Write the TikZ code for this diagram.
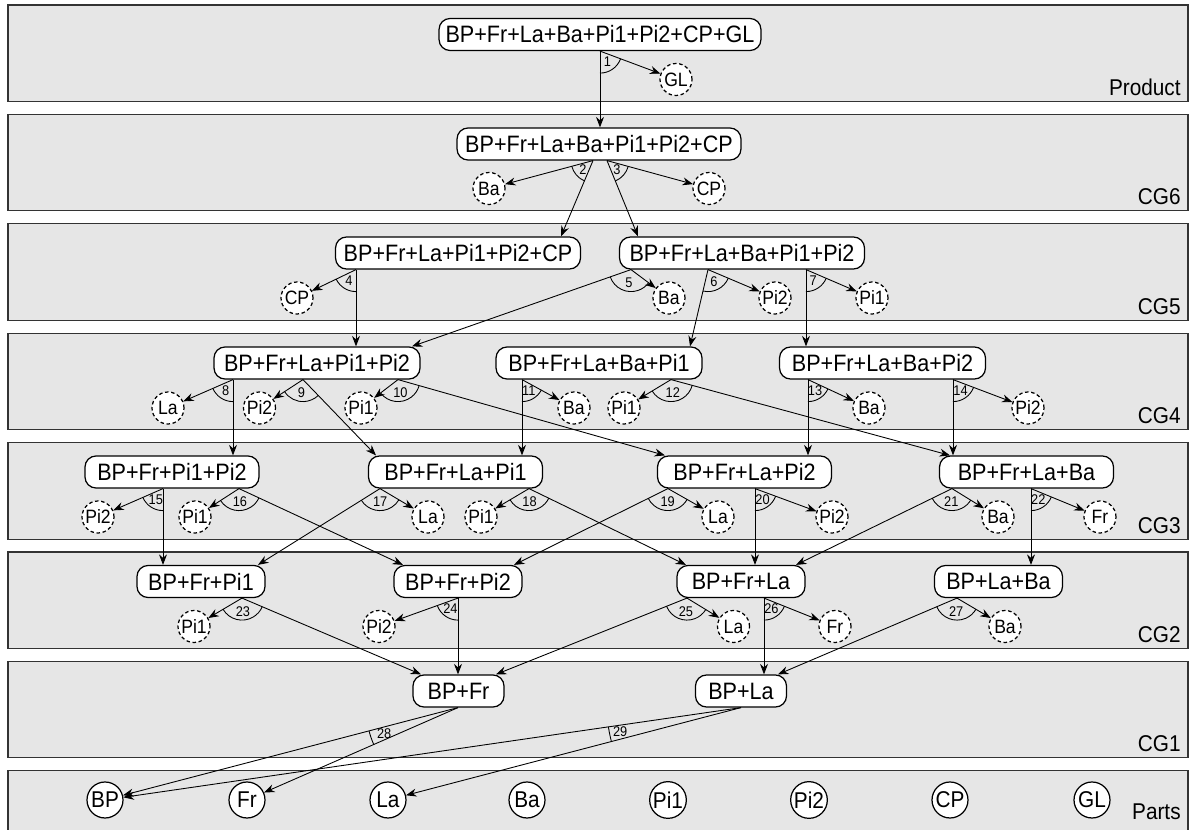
\documentclass[tikz,border=0pt]{standalone}
\usepackage{fontspec}
\setmainfont{Liberation Sans}[FakeStretch=0.91]
\usetikzlibrary{arrows.meta,angles}
\definecolor{bandfill}{HTML}{E6E6E6}
\definecolor{bandline}{HTML}{333333}

\begin{document}
\begin{tikzpicture}[x=0.02cm, y=-0.02cm,
      bandbox/.style={draw=bandline, fill=bandfill, line width=0.6pt},
      bandlabel/.style={anchor=base east, inner sep=0pt, font=\fontsize{13}{15}\selectfont},
      cgnode/.style={draw, fill=white, line width=0.7pt, rounded corners=0.22cm, minimum width=#1, minimum height=0.64cm, inner xsep=3pt, font=\fontsize{13.5}{16}\selectfont},
      subpart/.style={circle, draw, fill=white, line width=0.7pt, dash pattern=on 2pt off 1.5pt, minimum size=0.64cm, inner sep=0.5pt, font=\fontsize{11}{12}\selectfont},
      partnode/.style={circle, draw, fill=white, line width=0.7pt, minimum size=0.72cm, inner sep=0.5pt, font=\fontsize{13}{15}\selectfont},
      conn/.style={line width=0.5pt, -{Stealth[length=2.1mm, width=1.6mm, inset=0.7mm]}},
      splitangle/.style={draw, line width=0.5pt, angle radius=0.44cm, angle eccentricity=0.6, pic text options={font=\fontsize{8}{9}\selectfont, inner sep=0pt}}]

      \useasboundingbox (0,0) rectangle (1191,830);

      % Bands
      \draw[bandbox] (8,5) rectangle (1188,101.5);
      \draw[bandbox] (8,114.4) rectangle (1188,210.9);
      \draw[bandbox] (8,223.8) rectangle (1188,320.3);
      \draw[bandbox] (8,333.2) rectangle (1188,429.7);
      \draw[bandbox] (8,442.6) rectangle (1188,539.1);
      \draw[bandbox] (8,552) rectangle (1188,648.5);
      \draw[bandbox] (8,661.4) rectangle (1188,757.9);
      \draw[bandbox] (8,770.8) rectangle (1188,870);

      \node[bandlabel] (lprod) at (1181,95.5) {Product};
      \node[bandlabel] (lcg6) at (1181,205) {CG6};
      \node[bandlabel] (lcg5) at (1181,314.3) {CG5};
      \node[bandlabel] (lcg4) at (1181,423.7) {CG4};
      \node[bandlabel] (lcg3) at (1181,533.1) {CG3};
      \node[bandlabel] (lcg2) at (1181,642.5) {CG2};
      \node[bandlabel] (lcg1) at (1181,751.9) {CG1};
      \node[bandlabel] (lparts) at (1181,820) {Parts};

      % Assemblies
      \node[cgnode=6.44cm] (prod) at (600,34.5) {BP+Fr+La+Ba+Pi1+Pi2+CP+GL};
      \node[cgnode=5.68cm] (g6) at (599,144) {BP+Fr+La+Ba+Pi1+Pi2+CP};
      \node[cgnode=4.9cm] (g5a) at (458,253) {BP+Fr+La+Pi1+Pi2+CP};
      \node[cgnode=4.9cm] (g5b) at (742,253) {BP+Fr+La+Ba+Pi1+Pi2};
      \node[cgnode=4.12cm] (g4a) at (317,363) {BP+Fr+La+Pi1+Pi2};
      \node[cgnode=4.12cm] (g4b) at (599,363) {BP+Fr+La+Ba+Pi1};
      \node[cgnode=4.12cm] (g4c) at (882.5,363) {BP+Fr+La+Ba+Pi2};
      \node[cgnode=3.48cm] (g3a) at (172,472) {BP+Fr+Pi1+Pi2};
      \node[cgnode=3.48cm] (g3b) at (455.5,472) {BP+Fr+La+Pi1};
      \node[cgnode=3.48cm] (g3c) at (744.5,472) {BP+Fr+La+Pi2};
      \node[cgnode=3.48cm] (g3d) at (1026.5,472) {BP+Fr+La+Ba};
      \node[cgnode=2.56cm] (g2a) at (201,581.5) {BP+Fr+Pi1};
      \node[cgnode=2.56cm] (g2b) at (458,581.5) {BP+Fr+Pi2};
      \node[cgnode=2.56cm] (g2c) at (741,581.5) {BP+Fr+La};
      \node[cgnode=2.56cm] (g2d) at (998.5,581.5) {BP+La+Ba};
      \node[cgnode=1.82cm] (g1a) at (458.5,691) {BP+Fr};
      \node[cgnode=1.82cm] (g1b) at (741,691) {BP+La};

      % Removed parts
      \node[subpart] (c1) at (676,79.5) {GL};
      \node[subpart] (c2) at (489,188.5) {Ba};
      \node[subpart] (c3) at (709,188.5) {CP};
      \node[subpart] (c4) at (297,298) {CP};
      \node[subpart] (c5) at (669,298) {Ba};
      \node[subpart] (c6) at (775,298) {Pi2};
      \node[subpart] (c7) at (872,298) {Pi1};
      \node[subpart] (c8) at (168,408) {La};
      \node[subpart] (c9) at (259.5,408) {Pi2};
      \node[subpart] (c10) at (361,408) {Pi1};
      \node[subpart] (c11) at (574,408) {Ba};
      \node[subpart] (c12) at (624,408) {Pi1};
      \node[subpart] (c13) at (869,408) {Ba};
      \node[subpart] (c14) at (1028,408) {Pi2};
      \node[subpart] (c15) at (98,517) {Pi2};
      \node[subpart] (c16) at (195,517) {Pi1};
      \node[subpart] (c17) at (428,517) {La};
      \node[subpart] (c18) at (481,517) {Pi1};
      \node[subpart] (c19) at (718,517) {La};
      \node[subpart] (c20) at (832,517) {Pi2};
      \node[subpart] (c21) at (998,517) {Ba};
      \node[subpart] (c22) at (1100,517) {Fr};
      \node[subpart] (c23) at (194,626.5) {Pi1};
      \node[subpart] (c24) at (379,626.5) {Pi2};
      \node[subpart] (c25) at (733.5,626.5) {La};
      \node[subpart] (c26) at (835,626.5) {Fr};
      \node[subpart] (c27) at (1005,626.5) {Ba};

      % Parts
      \node[partnode] (pBP) at (105,800) {BP};
      \node[partnode] (pFr) at (247,800) {Fr};
      \node[partnode] (pLa) at (388,800) {La};
      \node[partnode] (pBa) at (527,800) {Ba};
      \node[partnode] (pPi1) at (668,800) {Pi1};
      \node[partnode] (pPi2) at (809,800) {Pi2};
      \node[partnode] (pCP) at (950,800) {CP};
      \node[partnode] (pGL) at (1092,800) {GL};

      % --- Product ---
      \coordinate (s1) at (600,0 |- prod.south);
      \coordinate (e1) at (s1 |- g6.north);
      \draw[conn] (s1) -- (e1);
      \draw[conn] (s1) -- (c1);
      \pic[splitangle, pic text=1] {angle=e1--s1--c1};

      % --- CG6 ---
      \coordinate (s2) at (593,0 |- g6.south);
      \coordinate (e2) at (561,0 |- g5a.north);
      \draw[conn] (s2) -- (c2);
      \draw[conn] (s2) -- (e2);
      \pic[splitangle, pic text=2] {angle=c2--s2--e2};
      \coordinate (s3) at (607,0 |- g6.south);
      \coordinate (e3) at (638,0 |- g5b.north);
      \draw[conn] (s3) -- (e3);
      \draw[conn] (s3) -- (c3);
      \pic[splitangle, pic text=3] {angle=e3--s3--c3};

      % --- CG5 ---
      \coordinate (s4) at (356,0 |- g5a.south);
      \coordinate (e4) at (s4 |- g4a.north);
      \draw[conn] (s4) -- (c4);
      \draw[conn] (s4) -- (e4);
      \pic[splitangle, pic text=4] {angle=c4--s4--e4};
      \coordinate (s5) at (631,0 |- g5b.south);
      \coordinate (e5) at (412,0 |- g4a.north);
      \draw[conn] (s5) -- (e5);
      \draw[conn] (s5) -- (c5);
      \pic[splitangle, pic text=5] {angle=e5--s5--c5};
      \coordinate (s6) at (708,0 |- g5b.south);
      \coordinate (e6) at (690,0 |- g4b.north);
      \draw[conn] (s6) -- (e6);
      \draw[conn] (s6) -- (c6);
      \pic[splitangle, pic text=6] {angle=e6--s6--c6};
      \coordinate (s7) at (806,0 |- g5b.south);
      \coordinate (e7) at (s7 |- g4c.north);
      \draw[conn] (s7) -- (e7);
      \draw[conn] (s7) -- (c7);
      \pic[splitangle, pic text=7] {angle=e7--s7--c7};

      % --- CG4 ---
      \coordinate (s8) at (233,0 |- g4a.south);
      \coordinate (e8) at (s8 |- g3a.north);
      \draw[conn] (s8) -- (c8);
      \draw[conn] (s8) -- (e8);
      \pic[splitangle, pic text=8] {angle=c8--s8--e8};
      \coordinate (s9) at (303,0 |- g4a.south);
      \coordinate (e9) at (376,0 |- g3b.north);
      \draw[conn] (s9) -- (c9);
      \draw[conn] (s9) -- (e9);
      \pic[splitangle, pic text=9] {angle=c9--s9--e9};
      \coordinate (s10) at (398,0 |- g4a.south);
      \coordinate (e10) at (665,0 |- g3c.north);
      \draw[conn] (s10) -- (c10);
      \draw[conn] (s10) -- (e10);
      \pic[splitangle, pic text=10] {angle=c10--s10--e10};
      \coordinate (s11) at (522,0 |- g4b.south);
      \coordinate (e11) at (s11 |- g3b.north);
      \draw[conn] (s11) -- (e11);
      \draw[conn] (s11) -- (c11);
      \pic[splitangle, pic text=11] {angle=e11--s11--c11};
      \coordinate (s12) at (671,0 |- g4b.south);
      \coordinate (e12) at (950,0 |- g3d.north);
      \draw[conn] (s12) -- (c12);
      \draw[conn] (s12) -- (e12);
      \pic[splitangle, pic text=12] {angle=c12--s12--e12};
      \coordinate (s13) at (808,0 |- g4c.south);
      \coordinate (e13) at (s13 |- g3c.north);
      \draw[conn] (s13) -- (e13);
      \draw[conn] (s13) -- (c13);
      \pic[splitangle, pic text=13] {angle=e13--s13--c13};
      \coordinate (s14) at (953,0 |- g4c.south);
      \coordinate (e14) at (s14 |- g3d.north);
      \draw[conn] (s14) -- (e14);
      \draw[conn] (s14) -- (c14);
      \pic[splitangle, pic text=14] {angle=e14--s14--c14};

      % --- CG3 ---
      \coordinate (s15) at (163,0 |- g3a.south);
      \coordinate (e15) at (s15 |- g2a.north);
      \draw[conn] (s15) -- (c15);
      \draw[conn] (s15) -- (e15);
      \pic[splitangle, pic text=15] {angle=c15--s15--e15};
      \coordinate (s16) at (239,0 |- g3a.south);
      \coordinate (e16) at (403,0 |- g2b.north);
      \draw[conn] (s16) -- (c16);
      \draw[conn] (s16) -- (e16);
      \pic[splitangle, pic text=16] {angle=c16--s16--e16};
      \coordinate (s17) at (380,0 |- g3b.south);
      \coordinate (e17) at (258,0 |- g2a.north);
      \draw[conn] (s17) -- (e17);
      \draw[conn] (s17) -- (c17);
      \pic[splitangle, pic text=17] {angle=e17--s17--c17};
      \coordinate (s18) at (529,0 |- g3b.south);
      \coordinate (e18) at (686,0 |- g2c.north);
      \draw[conn] (s18) -- (c18);
      \draw[conn] (s18) -- (e18);
      \pic[splitangle, pic text=18] {angle=c18--s18--e18};
      \coordinate (s19) at (668,0 |- g3c.south);
      \coordinate (e19) at (514,0 |- g2b.north);
      \draw[conn] (s19) -- (e19);
      \draw[conn] (s19) -- (c19);
      \pic[splitangle, pic text=19] {angle=e19--s19--c19};
      \coordinate (s20) at (755,0 |- g3c.south);
      \coordinate (e20) at (s20 |- g2c.north);
      \draw[conn] (s20) -- (e20);
      \draw[conn] (s20) -- (c20);
      \pic[splitangle, pic text=20] {angle=e20--s20--c20};
      \coordinate (s21) at (952,0 |- g3d.south);
      \coordinate (e21) at (796,0 |- g2c.north);
      \draw[conn] (s21) -- (e21);
      \draw[conn] (s21) -- (c21);
      \pic[splitangle, pic text=21] {angle=e21--s21--c21};
      \coordinate (s22) at (1031,0 |- g3d.south);
      \coordinate (e22) at (s22 |- g2d.north);
      \draw[conn] (s22) -- (e22);
      \draw[conn] (s22) -- (c22);
      \pic[splitangle, pic text=22] {angle=e22--s22--c22};

      % --- CG2 ---
      \coordinate (s23) at (242,0 |- g2a.south);
      \coordinate (e23) at (421,0 |- g1a.north);
      \draw[conn] (s23) -- (c23);
      \draw[conn] (s23) -- (e23);
      \pic[splitangle, pic text=23] {angle=c23--s23--e23};
      \coordinate (s24) at (458,0 |- g2b.south);
      \coordinate (e24) at (s24 |- g1a.north);
      \draw[conn] (s24) -- (c24);
      \draw[conn] (s24) -- (e24);
      \pic[splitangle, pic text=24] {angle=c24--s24--e24};
      \coordinate (s25) at (687,0 |- g2c.south);
      \coordinate (e25) at (496,0 |- g1a.north);
      \draw[conn] (s25) -- (e25);
      \draw[conn] (s25) -- (c25);
      \pic[splitangle, pic text=25] {angle=e25--s25--c25};
      \coordinate (s26) at (764,0 |- g2c.south);
      \coordinate (e26) at (s26 |- g1b.north);
      \draw[conn] (s26) -- (e26);
      \draw[conn] (s26) -- (c26);
      \pic[splitangle, pic text=26] {angle=e26--s26--c26};
      \coordinate (s27) at (957,0 |- g2d.south);
      \coordinate (e27) at (778,0 |- g1b.north);
      \draw[conn] (s27) -- (e27);
      \draw[conn] (s27) -- (c27);
      \pic[splitangle, pic text=27] {angle=e27--s27--c27};

      % --- CG1 ---
      \coordinate (s28) at (458,0 |- g1a.south);
      \draw[conn] (s28) -- (pBP);
      \draw[conn] (s28) -- (pFr);
      \pic[splitangle, angle radius=1.84cm, angle eccentricity=0.85, pic text=28] {angle=pBP--s28--pFr};
      \coordinate (s29) at (741,0 |- g1b.south);
      \draw[conn] (s29) -- (pBP);
      \draw[conn] (s29) -- (pLa);
      \pic[splitangle, angle radius=2.68cm, angle eccentricity=0.92, pic text=29] {angle=pBP--s29--pLa};

\end{tikzpicture}
\end{document}
